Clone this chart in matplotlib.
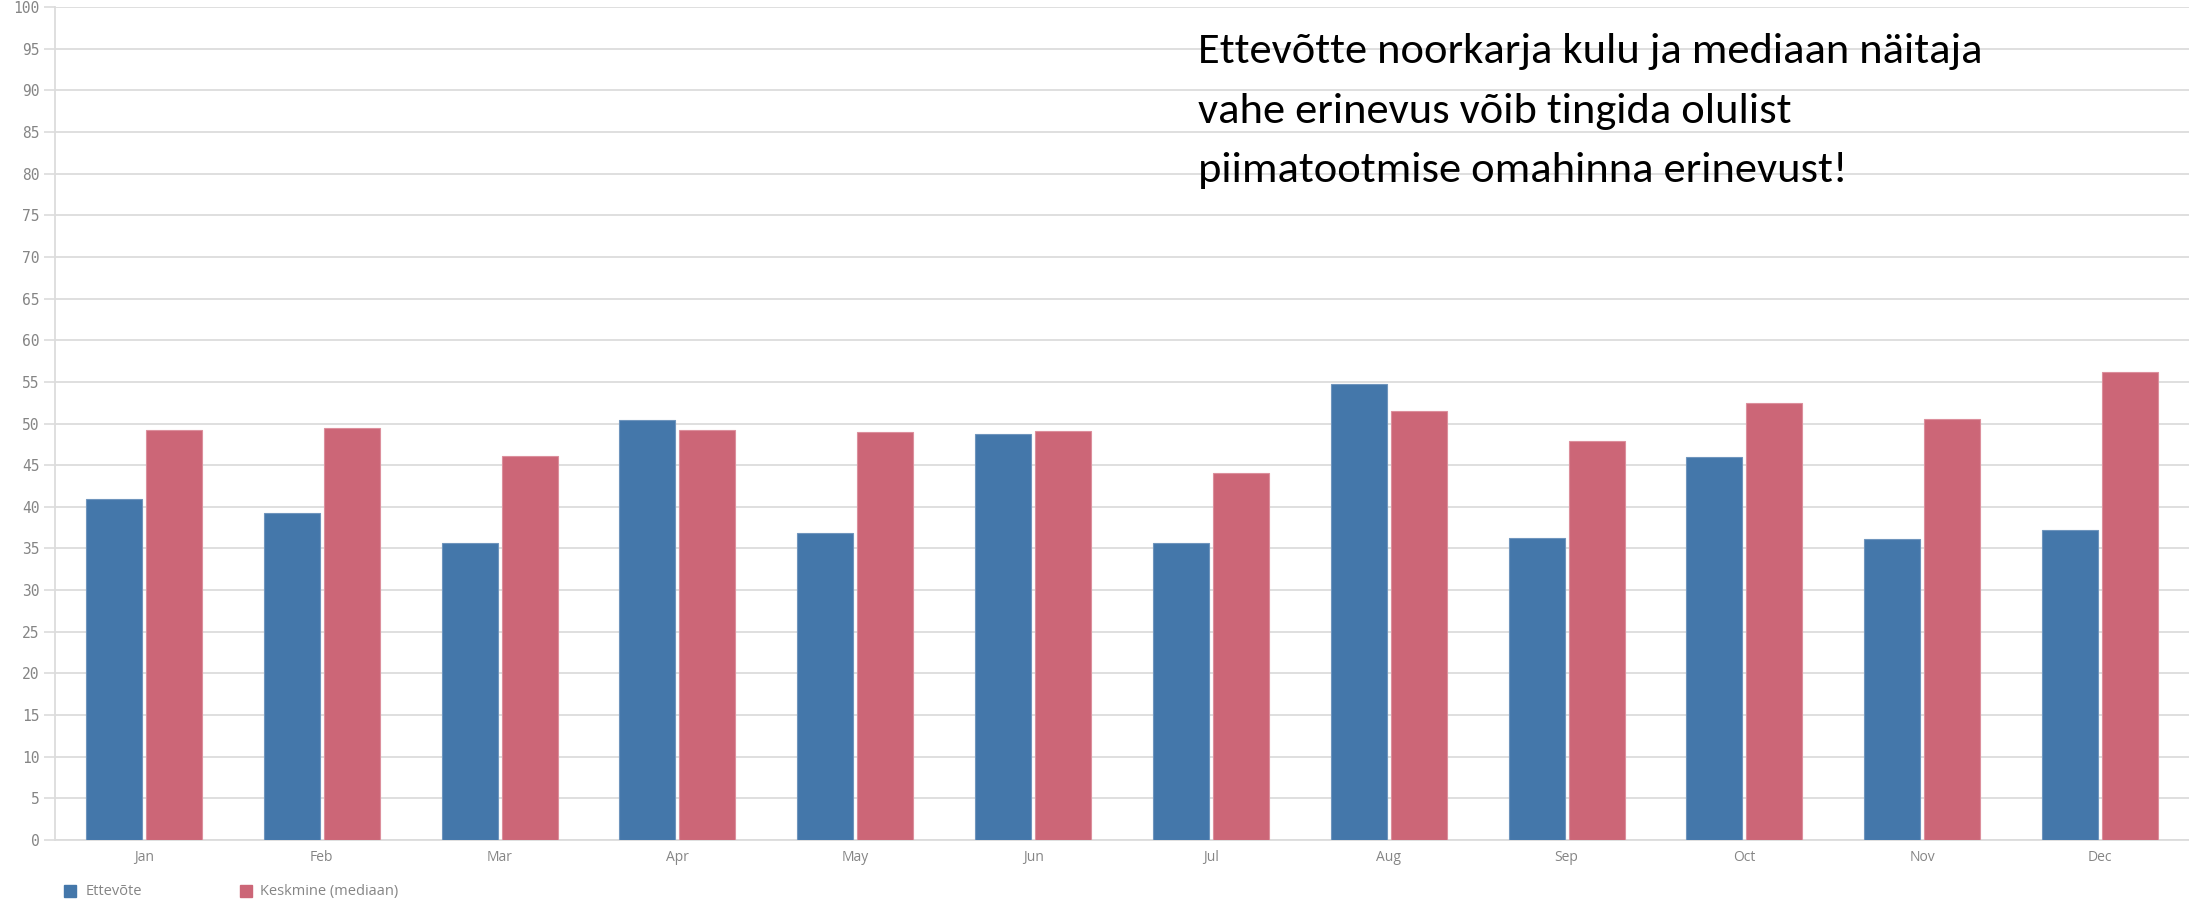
import matplotlib

matplotlib.use("Agg")

import matplotlib.pyplot as plt
import numpy as np
from matplotlib.patches import Rectangle

MONTHS = ["Jan", "Feb", "Mar", "Apr", "May", "Jun",
          "Jul", "Aug", "Sep", "Oct", "Nov", "Dec"]
ETTEVOTE = [40.9, 39.3, 35.7, 50.4, 36.8, 48.7, 35.6, 54.8, 36.3, 46.0, 36.1, 37.2]
MEDIAAN = [49.2, 49.4, 46.1, 49.2, 49.0, 49.1, 44.1, 51.5, 47.9, 52.5, 50.6, 56.2]
SERIES_NAMES = ["Ettevõte", "Keskmine (mediaan)"]
Y_TICKS = list(range(0, 101, 5))
NOTE_LINES = ["Ettevõtte noorkarja kulu ja mediaan näitaja",
              "vahe erinevus võib tingida olulist",
              "piimatootmise omahinna erinevust!"]

BLUE = "#4477aa"
RED = "#cc6677"
GRID = "#dcdcdc"
LABEL = "#858585"
W, H = 2189, 899


def main() -> None:
    fig = plt.figure(figsize=(W / 100, H / 100), dpi=100)
    ax = fig.add_axes([55 / W, 59 / H, 1 - 55 / W, 833 / H])

    x = np.arange(len(MONTHS))
    width = 0.315
    offset = 0.1685
    ax.bar(x - offset, ETTEVOTE, width, color=BLUE, edgecolor="#6f95bd",
           linewidth=0.8, zorder=3)
    ax.bar(x + offset, MEDIAAN, width, color=RED, edgecolor="#dc8f9c",
           linewidth=0.8, zorder=3)

    ax.set_xlim(-0.5, len(MONTHS) - 0.5)
    ax.set_ylim(0, 100)
    ax.set_yticks(Y_TICKS)
    ax.set_yticklabels([str(v) for v in Y_TICKS], family="DejaVu Sans Mono",
                       fontsize=10.5, color=LABEL)
    ax.set_xticks(x)
    ax.set_xticklabels(MONTHS, family="Open Sans", fontsize=10, color=LABEL)
    ax.tick_params(axis="y", length=8, width=1.2, color=GRID, pad=3)
    ax.tick_params(axis="x", length=0, pad=7)
    ax.grid(axis="y", color=GRID, linewidth=1.3, zorder=0)
    for side in ("top", "right"):
        ax.spines[side].set_visible(False)
    for side in ("left", "bottom"):
        ax.spines[side].set_color(GRID)
        ax.spines[side].set_linewidth(1.3)

    # legend below the plot area
    for (sx, tx), name, color in zip([(64, 86), (240, 260)], SERIES_NAMES, [BLUE, RED]):
        fig.patches.append(Rectangle((sx / W, 2 / H), 12 / W, 12 / H,
                                     transform=fig.transFigure, color=color))
        fig.text(tx / W, 4 / H, name, color=LABEL, fontsize=10.5,
                 family="Open Sans", va="baseline", ha="left")

    for line, base in zip(NOTE_LINES, [63, 123, 182]):
        fig.text(1198 / W, 1 - base / H, line, fontsize=32,
                 family=["Carlito", "Lato"], color="black",
                 va="baseline", ha="left")

    fig.savefig("out.png", dpi=100)
    plt.close(fig)


if __name__ == "__main__":
    main()
